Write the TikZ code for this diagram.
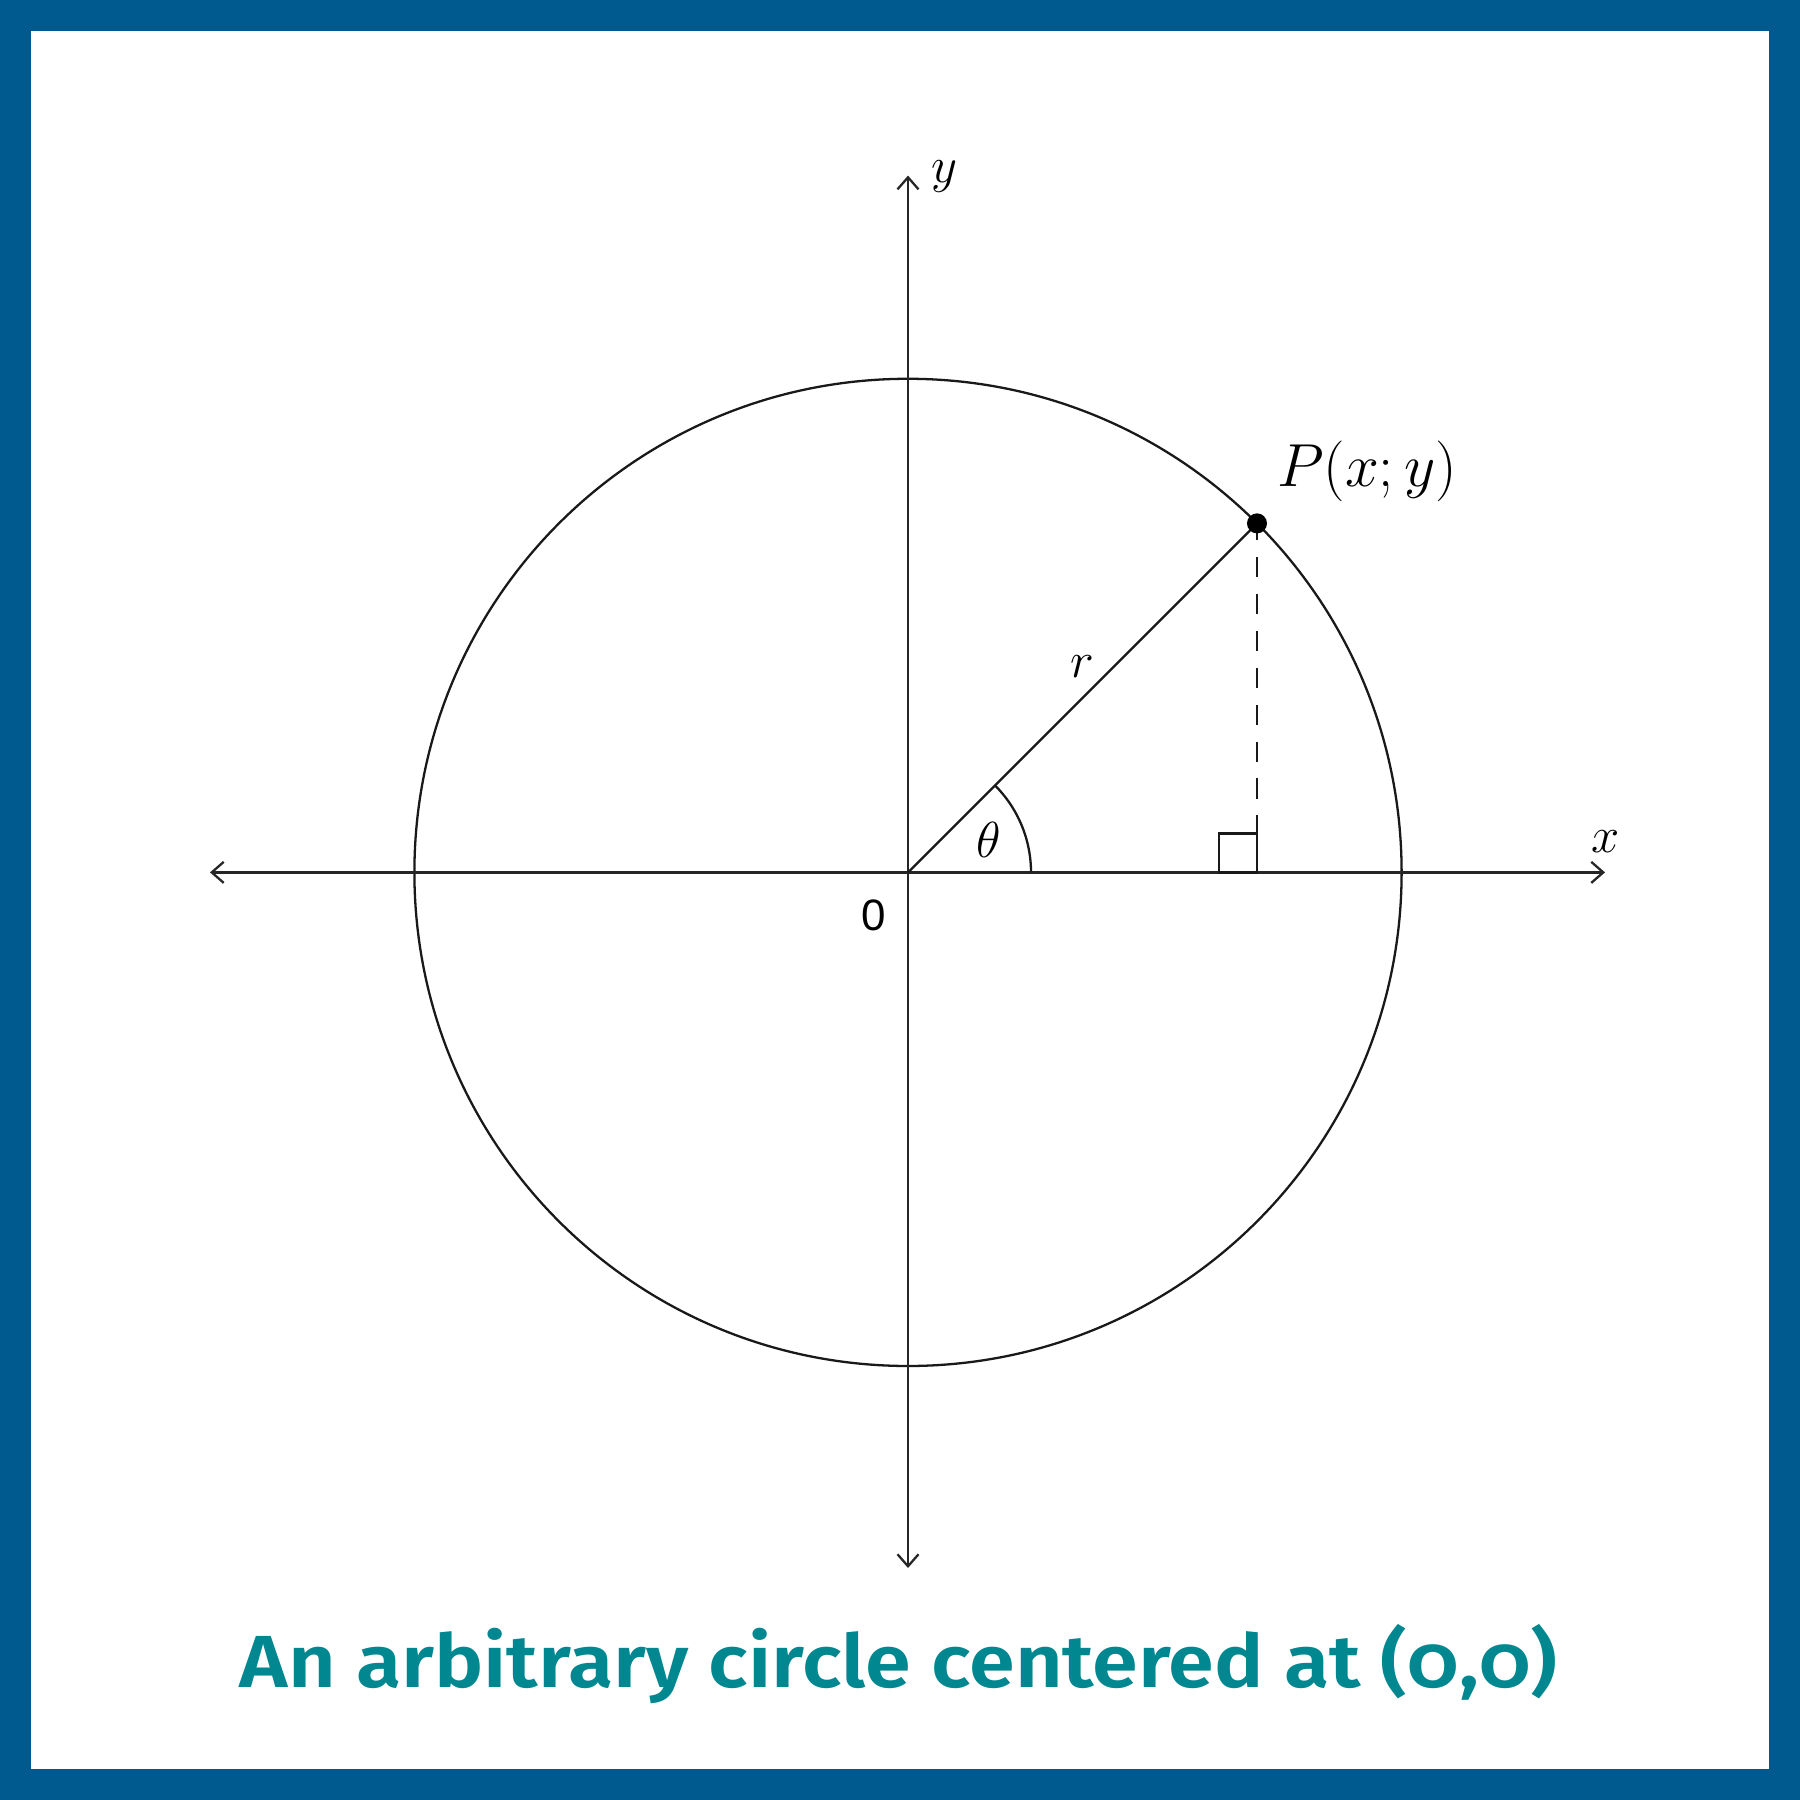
\documentclass[tikz,border=0pt]{standalone}
\usepackage{fontspec}
\setmainfont{Fira Sans}[Numbers=OldStyle,BoldFont={Fira Sans SemiBold}]
\newfontfamily\zerofont{Liberation Sans}
\usetikzlibrary{arrows.meta,calc}
\definecolor{frameblue}{HTML}{005A8F}
\definecolor{capteal}{HTML}{00878F}
\tikzset{
  axisline/.style={line width=0.65pt, black!85, {Straight Barb[length=1.2mm,width=2.1mm]}-{Straight Barb[length=1.2mm,width=2.1mm]}},
  thinline/.style={line width=0.65pt, black!90},
  mathlbl/.style={font=\fontsize{17}{20}\selectfont, inner sep=0pt},
}
\begin{document}
\begin{tikzpicture}[x=0.01cm,y=0.01cm]
  \useasboundingbox (0,0) rectangle (1800,1800);
  \fill[frameblue] (0,0) rectangle (1800,1800);
  \fill[white] (31,31) rectangle (1769,1769);
  % key points
  \coordinate (O) at (908,927.6);
  \coordinate (P) at ($(O)+(349,349)$);
  \coordinate (F) at ($(O)+(349,0)$);
  \coordinate (xl) at (210,927.6);
  \coordinate (xr) at (1605,927.6);
  \coordinate (yb) at (908,232);
  \coordinate (yt) at (908,1624.4);
  % circle
  \draw[thinline] (O) circle[radius=493.6];
  % axes
  \draw[axisline] (xl) -- (xr);
  \draw[axisline] (yb) -- (yt);
  % radius
  \draw[thinline] (O) -- (P);
  \draw[thinline, dash pattern=on 5.7pt off 4.8pt] (F) -- (P);
  % right angle mark
  \draw[thinline] (F) rectangle ($(F)+(-38,39)$);
  % angle arc
  \draw[thinline] ($(O)+(123,0)$) arc[start angle=0,end angle=45,radius=123];
  \fill (P) circle[radius=10];
  % labels
  \node[mathlbl, font=\fontsize{15.5}{18}\selectfont] (ylbl) at (944,1623) {$y$};
  \node[mathlbl, font=\fontsize{15.5}{18}\selectfont] (xlbl) at (1606,958) {$x$};
  \node[mathlbl] (Plbl) at (1367,1329) {$P(x;y)$};
  \node[mathlbl, font=\fontsize{15.5}{18}\selectfont] (rlbl) at (1082,1133) {$r$};
  \node[mathlbl, font=\fontsize{15.5}{18}\selectfont] (tlbl) at (989,960) {$\theta$};
  \node[inner sep=0pt, font=\zerofont\fontsize{12.5}{15}\selectfont] (zero) at (874,885) {0};
  \node[anchor=base, inner sep=0pt, text=capteal, font=\bfseries\fontsize{21}{26}\selectfont] (caption) at (898.5,112) {\scalebox{1.12}[1]{An arbitrary circle centered at (0,0)}};
\end{tikzpicture}
\end{document}
